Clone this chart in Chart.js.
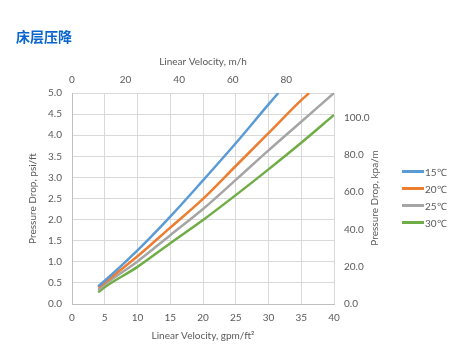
<!DOCTYPE html>
<html>
<head>
<meta charset="utf-8">
<script src="https://cdn.jsdelivr.net/npm/chart.js@4"></script>
<style>
  html, body { margin: 0; padding: 0; background: #fff; }
  #wrap { position: relative; width: 468px; height: 364px; }
  #title { position: absolute; left: 16px; top: 28px; font: bold 14px "Noto Sans CJK SC", sans-serif; line-height: 16px; color: #0a66cc; }
  #legend { position: absolute; left: 402px; top: 163px; font: 10px Lato, sans-serif; color: #595959; }
  .item { height: 17px; display: flex; align-items: center; }
  .sw { width: 22px; height: 2.5px; margin-right: 1px; }
  #rtitle { position: absolute; left: 374px; top: 198px; font: 10px Lato, sans-serif; color: #595959; white-space: nowrap; transform: translate(-50%, -50%) rotate(-90deg); line-height: 12px; }
</style>
</head>
<body>
<div id="wrap">
  <canvas id="c" width="468" height="364"></canvas>
  <div id="title">床层压降</div>
  <div id="rtitle"></div>
  <div id="legend"></div>
</div>
<script>
// Data
const seriesNames = ['15℃', '20℃', '25℃', '30℃'];
const seriesColors = ['#5b9bd5', '#ed7d31', '#a5a5a5', '#70ad47'];
const velocity15 = [4, 5, 10, 15, 20, 25, 30, 31.5];
const drop15     = [0.42, 0.55, 1.27, 2.07, 2.93, 3.81, 4.73, 5.0];
const velocity20 = [4, 5, 10, 15, 20, 25, 30, 35, 36.2];
const drop20     = [0.39, 0.51, 1.13, 1.81, 2.49, 3.27, 4.05, 4.83, 5.0];
const velocity25 = [4, 5, 10, 15, 20, 25, 30, 35, 40];
const drop25     = [0.33, 0.46, 1.01, 1.63, 2.25, 2.94, 3.64, 4.32, 5.0];
const velocity30 = [4, 5, 10, 15, 20, 25, 30, 35, 40];
const drop30     = [0.28, 0.40, 0.88, 1.44, 1.99, 2.58, 3.19, 3.82, 4.48];
const bottomAxisMax = 40;   // gpm/ft2
const topAxisMax = 97.8;    // m/h equivalent of 40 gpm/ft2
const leftAxisMax = 5.0;    // psi/ft
const rightAxisMax = 113.1; // kPa/m equivalent of 5 psi/ft
const rightAxisTitle = 'Pressure Drop, kpa/m';

const xs = [velocity15, velocity20, velocity25, velocity30];
const ys = [drop15, drop20, drop25, drop30];

const datasets = seriesNames.map((n, i) => ({
  label: n,
  data: xs[i].map((x, j) => ({ x: x, y: ys[i][j] })),
  borderColor: seriesColors[i],
  backgroundColor: seriesColors[i],
  borderWidth: 2.5,
  pointRadius: 0,
  cubicInterpolationMode: 'monotone',
  xAxisID: 'x',
  yAxisID: 'y'
}));

const tickFont = { family: 'Lato', size: 10 };
const tickColor = '#595959';
const gridColor = '#d9d9d9';

new Chart(document.getElementById('c'), {
  type: 'line',
  data: { datasets },
  options: {
    responsive: false,
    animation: false,
    layout: { padding: { left: 0, right: 88, top: 0, bottom: 0 } },
    plugins: { legend: { display: false }, title: { display: false }, tooltip: { enabled: false } },
    scales: {
      x: {
        type: 'linear', position: 'bottom', min: 0, max: bottomAxisMax,
        ticks: { stepSize: 5, font: tickFont, color: tickColor, padding: 8 },
        grid: { color: gridColor, drawTicks: false },
        border: { color: '#bfbfbf' },
        title: { display: true, text: 'Linear Velocity, gpm/ft²', font: tickFont, color: tickColor, padding: { top: 0, bottom: 22 } },
        afterFit: s => { s.height = 60; }
      },
      x2: {
        type: 'linear', position: 'top', min: 0, max: topAxisMax,
        ticks: { stepSize: 20, includeBounds: false, font: tickFont, color: tickColor, padding: 7 },
        grid: { display: false, drawTicks: false },
        border: { display: false },
        title: { display: true, text: 'Linear Velocity, m/h', font: tickFont, color: tickColor, padding: { top: 56, bottom: 0 } },
        afterFit: s => { s.height = 93; }
      },
      y: {
        type: 'linear', position: 'left', min: 0, max: leftAxisMax,
        ticks: { stepSize: 0.5, font: tickFont, color: tickColor, padding: 10, callback: v => v.toFixed(1) },
        grid: { color: gridColor, drawTicks: false },
        border: { color: '#bfbfbf' },
        title: { display: true, text: 'Pressure Drop, psi/ft', font: tickFont, color: tickColor, padding: { top: 27, bottom: 0 } },
        afterFit: s => { s.width = 72; }
      },
      y2: {
        type: 'linear', position: 'right', min: 0, max: rightAxisMax,
        ticks: { stepSize: 20, includeBounds: false, font: tickFont, color: tickColor, padding: 10, callback: v => v.toFixed(1) },
        grid: { display: false, drawTicks: false },
        border: { display: false },
        title: { display: false },
        afterFit: s => { s.width = 46; }
      }
    }
  }
});

document.getElementById('rtitle').textContent = rightAxisTitle;
const lg = document.getElementById('legend');
seriesNames.forEach((n, i) => {
  const d = document.createElement('div');
  d.className = 'item';
  d.innerHTML = '<span class="sw" style="background:' + seriesColors[i] + '"></span><span>' + n + '</span>';
  lg.appendChild(d);
});
</script>
</body>
</html>
